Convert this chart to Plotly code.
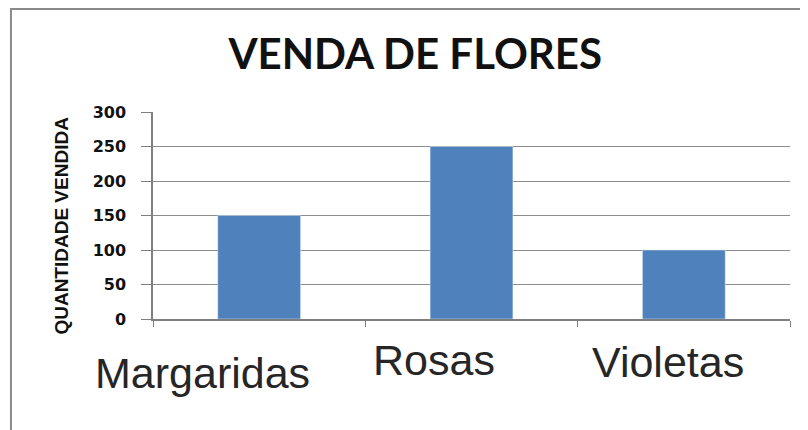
import plotly.graph_objects as go

categories = ["Margaridas", "Rosas", "Violetas"]
values = [150, 250, 100]
y_ticks = [0, 50, 100, 150, 200, 250, 300]
y_title = "QUANTIDADE VENDIDA"

# per-label pixel offsets (styling only)
label_dx = [-57, -38, -16]
label_dy = [-54, -41, -43]

fig = go.Figure()
fig.add_trace(go.Bar(x=categories, y=values, marker_color="#4F81BD", width=0.39))

for cat, dx, dy in zip(categories, label_dx, label_dy):
    fig.add_annotation(x=cat, y=0, xref="x", yref="y", text=cat, showarrow=False,
                       xshift=dx, yshift=dy, yanchor="middle",
                       font=dict(family="Liberation Sans, Arial", size=43, color="#262626"))

fig.add_annotation(x=-0.1436, y=0.449, xref="paper", yref="paper", text=y_title, showarrow=False,
                   textangle=-90, xanchor="center", yanchor="middle",
                   font=dict(family="Liberation Sans, Arial", size=19, color="#111111", weight="bold"))

fig.add_shape(type="rect", xref="paper", yref="paper", x0=-0.223, x1=1.2, y0=-0.7, y1=1.4976,
              line=dict(color="#8a8a8a", width=2), layer="below")

fig.update_layout(
    width=808, height=430,
    margin=dict(l=145, r=26, t=104, b=119),
    paper_bgcolor="white", plot_bgcolor="white",
    showlegend=False,
    title=dict(text="<b>VENDA DE FLORES</b>", x=0.504, xanchor="center", y=0.893, yanchor="middle",
               font=dict(family="Lato, Liberation Sans, Arial", size=42, color="#111111")),
    xaxis=dict(showticklabels=False, tickson="boundaries", ticks="outside", ticklen=6,
               tickcolor="#7f7f7f", showline=True, linecolor="#7f7f7f", linewidth=1.5,
               showgrid=False, range=[-0.5, 2.5]),
    yaxis=dict(range=[0, 300], tickvals=y_ticks, ticks="outside", ticklen=10, tickcolor="#7f7f7f",
               showline=True, linecolor="#7f7f7f", linewidth=1.5, showgrid=True, gridcolor="#8c8c8c",
               gridwidth=1, zeroline=False, ticklabelstandoff=12,
               tickfont=dict(family="DejaVu Sans", size=16, color="#111111", weight="bold")),
)

fig.write_html("out.html")
